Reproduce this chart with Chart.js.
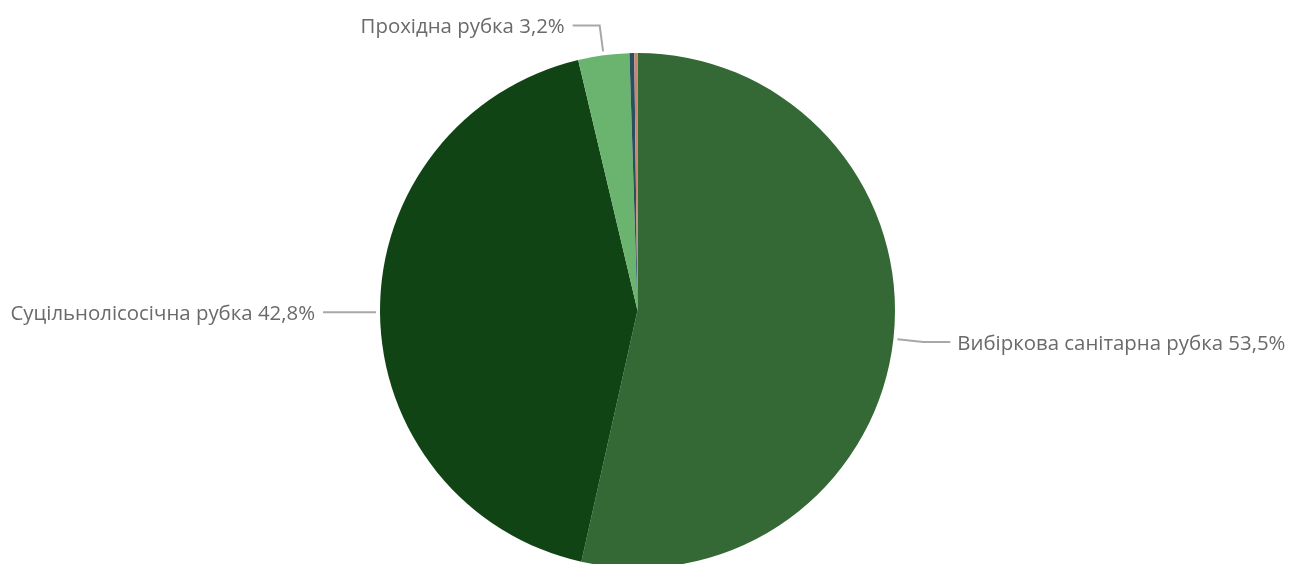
<!DOCTYPE html>
<html><head><meta charset="utf-8">
<script src="https://cdn.jsdelivr.net/npm/chart.js@4"></script>
<style>
html,body{margin:0;padding:0;overflow:hidden;background:#fff;}
#wrap{position:relative;width:1289px;height:568px;}
</style></head>
<body>
<div id="wrap"><canvas id="c"></canvas></div>
<script>
const categories = ["Вибіркова санітарна рубка","Суцільнолісосічна рубка","Прохідна рубка","Освітлення","Прочищення"];
const shares = [53.5, 42.8, 3.2, 0.3, 0.2];
const colors = ["#346835","#114415","#6ab46f","#2c4f5e","#c68672"];

const fmt = v => v.toFixed(1).replace('.', ',') + '%';

const labelPlugin = {
  id: 'outLabels',
  afterDatasetsDraw(chart) {
    const ctx = chart.ctx;
    const meta = chart.getDatasetMeta(0);
    const ds = chart.data.datasets[0];
    ctx.save();
    ctx.font = '20.4px "Open Sans", sans-serif';
    meta.data.forEach((arc, i) => {
      const v = ds.data[i];
      if (v < 1) return;
      const p = arc.getProps(['x','y','startAngle','endAngle','outerRadius'], true);
      const a = (p.startAngle + p.endAngle) / 2;
      const dx = Math.cos(a), dy = Math.sin(a);
      const r = p.outerRadius;
      const x0 = p.x + dx * (r + 4), y0 = p.y + dy * (r + 4);
      const x1 = p.x + dx * (r + 30), y1 = p.y + dy * (r + 30);
      const right = dx >= 0;
      const hl = 27;
      const x2 = right ? x1 + hl : x1 - hl;
      ctx.strokeStyle = '#a8a8a8';
      ctx.lineWidth = 2;
      ctx.beginPath();
      ctx.moveTo(x0, y0); ctx.lineTo(x1, y1); ctx.lineTo(x2, y1);
      ctx.stroke();
      ctx.fillStyle = '#6a6a6a';
      ctx.textBaseline = 'alphabetic';
      ctx.textAlign = right ? 'left' : 'right';
      const txt = chart.data.labels[i] + ' ' + fmt(v);
      ctx.fillText(txt, right ? x2 + 7 : x2 - 8, y1 + 7.5);
    });
    ctx.restore();
  }
};

new Chart(document.getElementById('c'), {
  type: 'pie',
  data: {
    labels: categories,
    datasets: [{ data: shares, backgroundColor: colors, borderWidth: 0 }]
  },
  options: {
    responsive: true,
    maintainAspectRatio: false,
    animation: false,
    layout: { padding: { top: 53, bottom: 0, left: 0, right: 14 } },
    plugins: { legend: { display: false }, tooltip: { enabled: false } }
  },
  plugins: [labelPlugin]
});
</script>
</body></html>
